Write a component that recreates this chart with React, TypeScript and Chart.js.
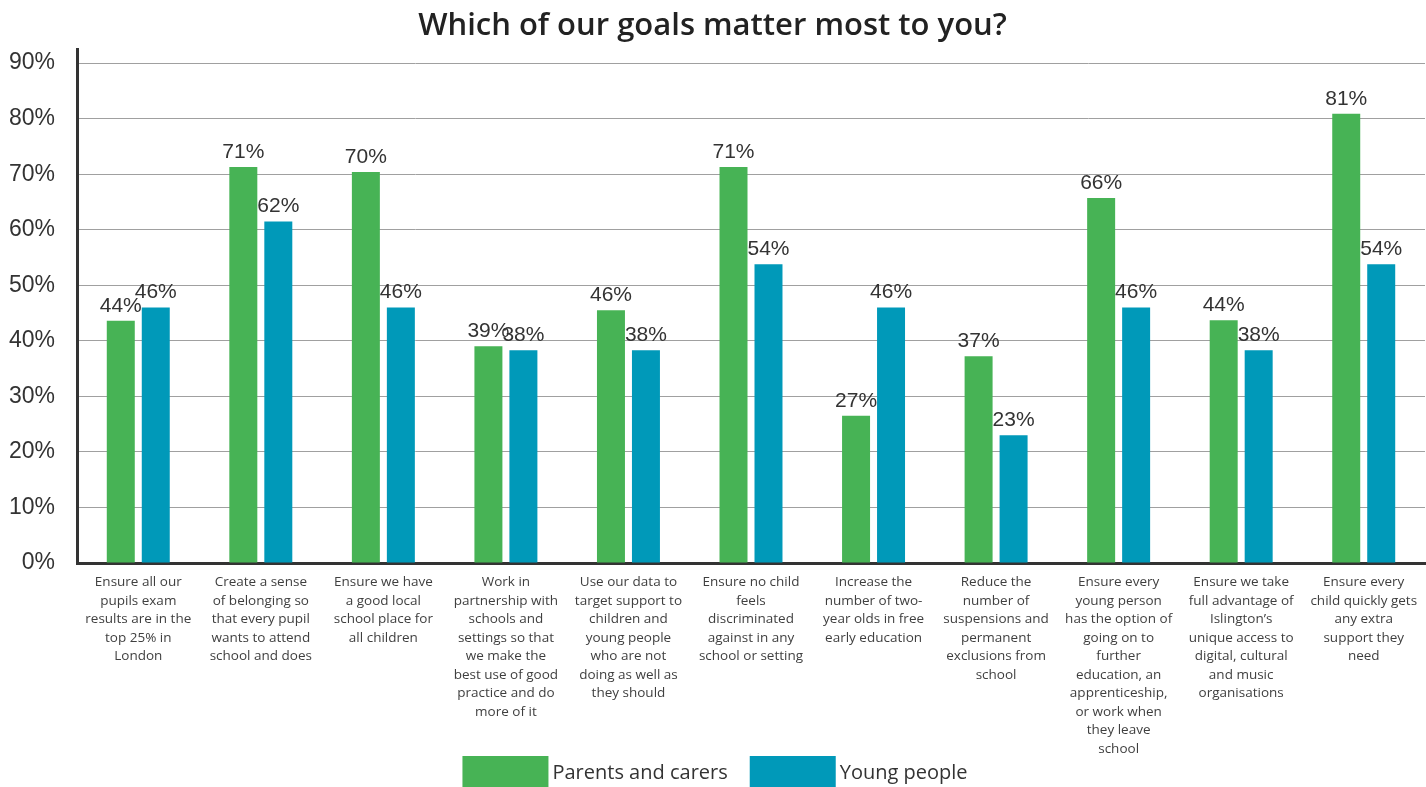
import React, { useEffect, useRef } from "react";
import { Chart, registerables } from "chart.js";

Chart.register(...registerables);

const categoryLabels: string[][] = [
  ["Ensure all our", "pupils exam", "results are in the", "top 25% in", "London"],
  ["Create a sense", "of belonging so", "that every pupil", "wants to attend", "school and does"],
  ["Ensure we have", "a good local", "school place for", "all children"],
  ["Work in", "partnership with", "schools and", "settings so that", "we make the", "best use of good", "practice and do", "more of it"],
  ["Use our data to", "target support to", "children and", "young people", "who are not", "doing as well as", "they should"],
  ["Ensure no child", "feels", "discriminated", "against in any", "school or setting"],
  ["Increase the", "number of two-", "year olds in free", "early education"],
  ["Reduce the", "number of", "suspensions and", "permanent", "exclusions from", "school"],
  ["Ensure every", "young person", "has the option of", "going on to", "further", "education, an", "apprenticeship,", "or work when", "they leave", "school"],
  ["Ensure we take", "full advantage of", "Islington’s", "unique access to", "digital, cultural", "and music", "organisations"],
  ["Ensure every", "child quickly gets", "any extra", "support they", "need"],
];

const parentsValues = [43.6, 71.3, 70.4, 39.0, 45.5, 71.3, 26.5, 37.2, 65.7, 43.7, 80.9];
const youngValues = [46.0, 61.5, 46.0, 38.3, 38.3, 53.8, 46.0, 23.0, 46.0, 38.3, 53.8];

const seriesNames = ["Parents and carers", "Young people"];
const titleText = "Which of our goals matter most to you?";

const GREEN = "#47b355";
const BLUE = "#0099b9";

const valueLabelPlugin = {
  id: "valueLabels",
  afterDatasetsDraw(chart: any) {
    const ctx = chart.ctx;
    ctx.save();
    ctx.font = '21px "Liberation Sans", Arial, sans-serif';
    ctx.fillStyle = "#333333";
    ctx.textAlign = "center";
    ctx.textBaseline = "alphabetic";
    chart.data.datasets.forEach((ds: any, i: number) => {
      const meta = chart.getDatasetMeta(i);
      meta.data.forEach((bar: any, j: number) => {
        ctx.fillText(Math.round(ds.data[j]) + "%", bar.x, bar.y - 9);
      });
    });
    ctx.restore();
  },
};

const bottomLegendPlugin = {
  id: "bottomLegend",
  afterDraw(chart: any) {
    const ctx = chart.ctx;
    const boxW = 86;
    const boxH = 32;
    const gap = 4;
    const spacing = 22;
    const top = 756;
    ctx.save();
    ctx.font = '20px "Open Sans", sans-serif';
    ctx.textBaseline = "middle";
    ctx.textAlign = "left";
    const items = chart.data.datasets.map((ds: any) => ({
      text: ds.label,
      color: ds.backgroundColor,
      w: ctx.measureText(ds.label).width,
    }));
    let total = 0;
    items.forEach((it: any, i: number) => {
      total += boxW + gap + it.w + (i < items.length - 1 ? spacing : 0);
    });
    let x = chart.width / 2 + 2 - total / 2;
    items.forEach((it: any) => {
      ctx.fillStyle = it.color;
      ctx.fillRect(x, top, boxW, boxH);
      ctx.fillStyle = "#333333";
      ctx.fillText(it.text, x + boxW + gap, top + boxH / 2 + 1);
      x += boxW + gap + it.w + spacing;
    });
    ctx.restore();
  },
};

export default function App() {
  const canvasRef = useRef<HTMLCanvasElement | null>(null);

  useEffect(() => {
    if (!canvasRef.current) return;
    const chart = new Chart(canvasRef.current, {
      type: "bar",
      data: {
        labels: categoryLabels,
        datasets: [
          {
            label: seriesNames[0],
            data: parentsValues,
            backgroundColor: GREEN,
            categoryPercentage: 0.571,
            barPercentage: 0.8,
          },
          {
            label: seriesNames[1],
            data: youngValues,
            backgroundColor: BLUE,
            categoryPercentage: 0.571,
            barPercentage: 0.8,
          },
        ],
      },
      plugins: [valueLabelPlugin, bottomLegendPlugin],
      options: {
        animation: false,
        responsive: true,
        maintainAspectRatio: false,
        layout: { padding: { left: 0, right: 1, top: 0, bottom: 0 } },
        plugins: {
          title: {
            display: true,
            text: titleText,
            color: "#222222",
            font: { family: '"Open Sans", sans-serif', size: 31, weight: "600" as any },
            padding: { top: 8, bottom: 4 },
          },
          legend: { display: false },
          tooltip: { enabled: false },
        },
        scales: {
          x: {
            grid: { display: false },
            border: { display: true, color: "#333333", width: 3 },
            ticks: {
              autoSkip: false,
              maxRotation: 0,
              minRotation: 0,
              padding: 2,
              color: "#3f3f3f",
              font: { family: '"Open Sans", sans-serif', size: 13.5, lineHeight: 1.37 },
            },
            afterFit(scale: any) {
              scale.height = 224;
            },
          },
          y: {
            min: 0,
            max: 92.5,
            grid: { color: "#a0a0a0", lineWidth: 1, drawTicks: false },
            border: { display: true, color: "#333333", width: 3 },
            ticks: {
              stepSize: 10,
              includeBounds: false,
              padding: 22,
              color: "#333333",
              font: { family: '"Liberation Sans", Arial, sans-serif', size: 23 },
              callback: (v: any) => v + "%",
            },
            afterFit(scale: any) {
              scale.width = 77;
            },
          },
        },
      },
    });
    return () => chart.destroy();
  }, []);

  return (
    <div style={{ position: "fixed", top: 0, left: 0, width: 1426, height: 787, overflow: "hidden", background: "#fff" }}>
      <div style={{ position: "relative", width: 1426, height: 787 }}>
        <canvas ref={canvasRef} />
      </div>
    </div>
  );
}
